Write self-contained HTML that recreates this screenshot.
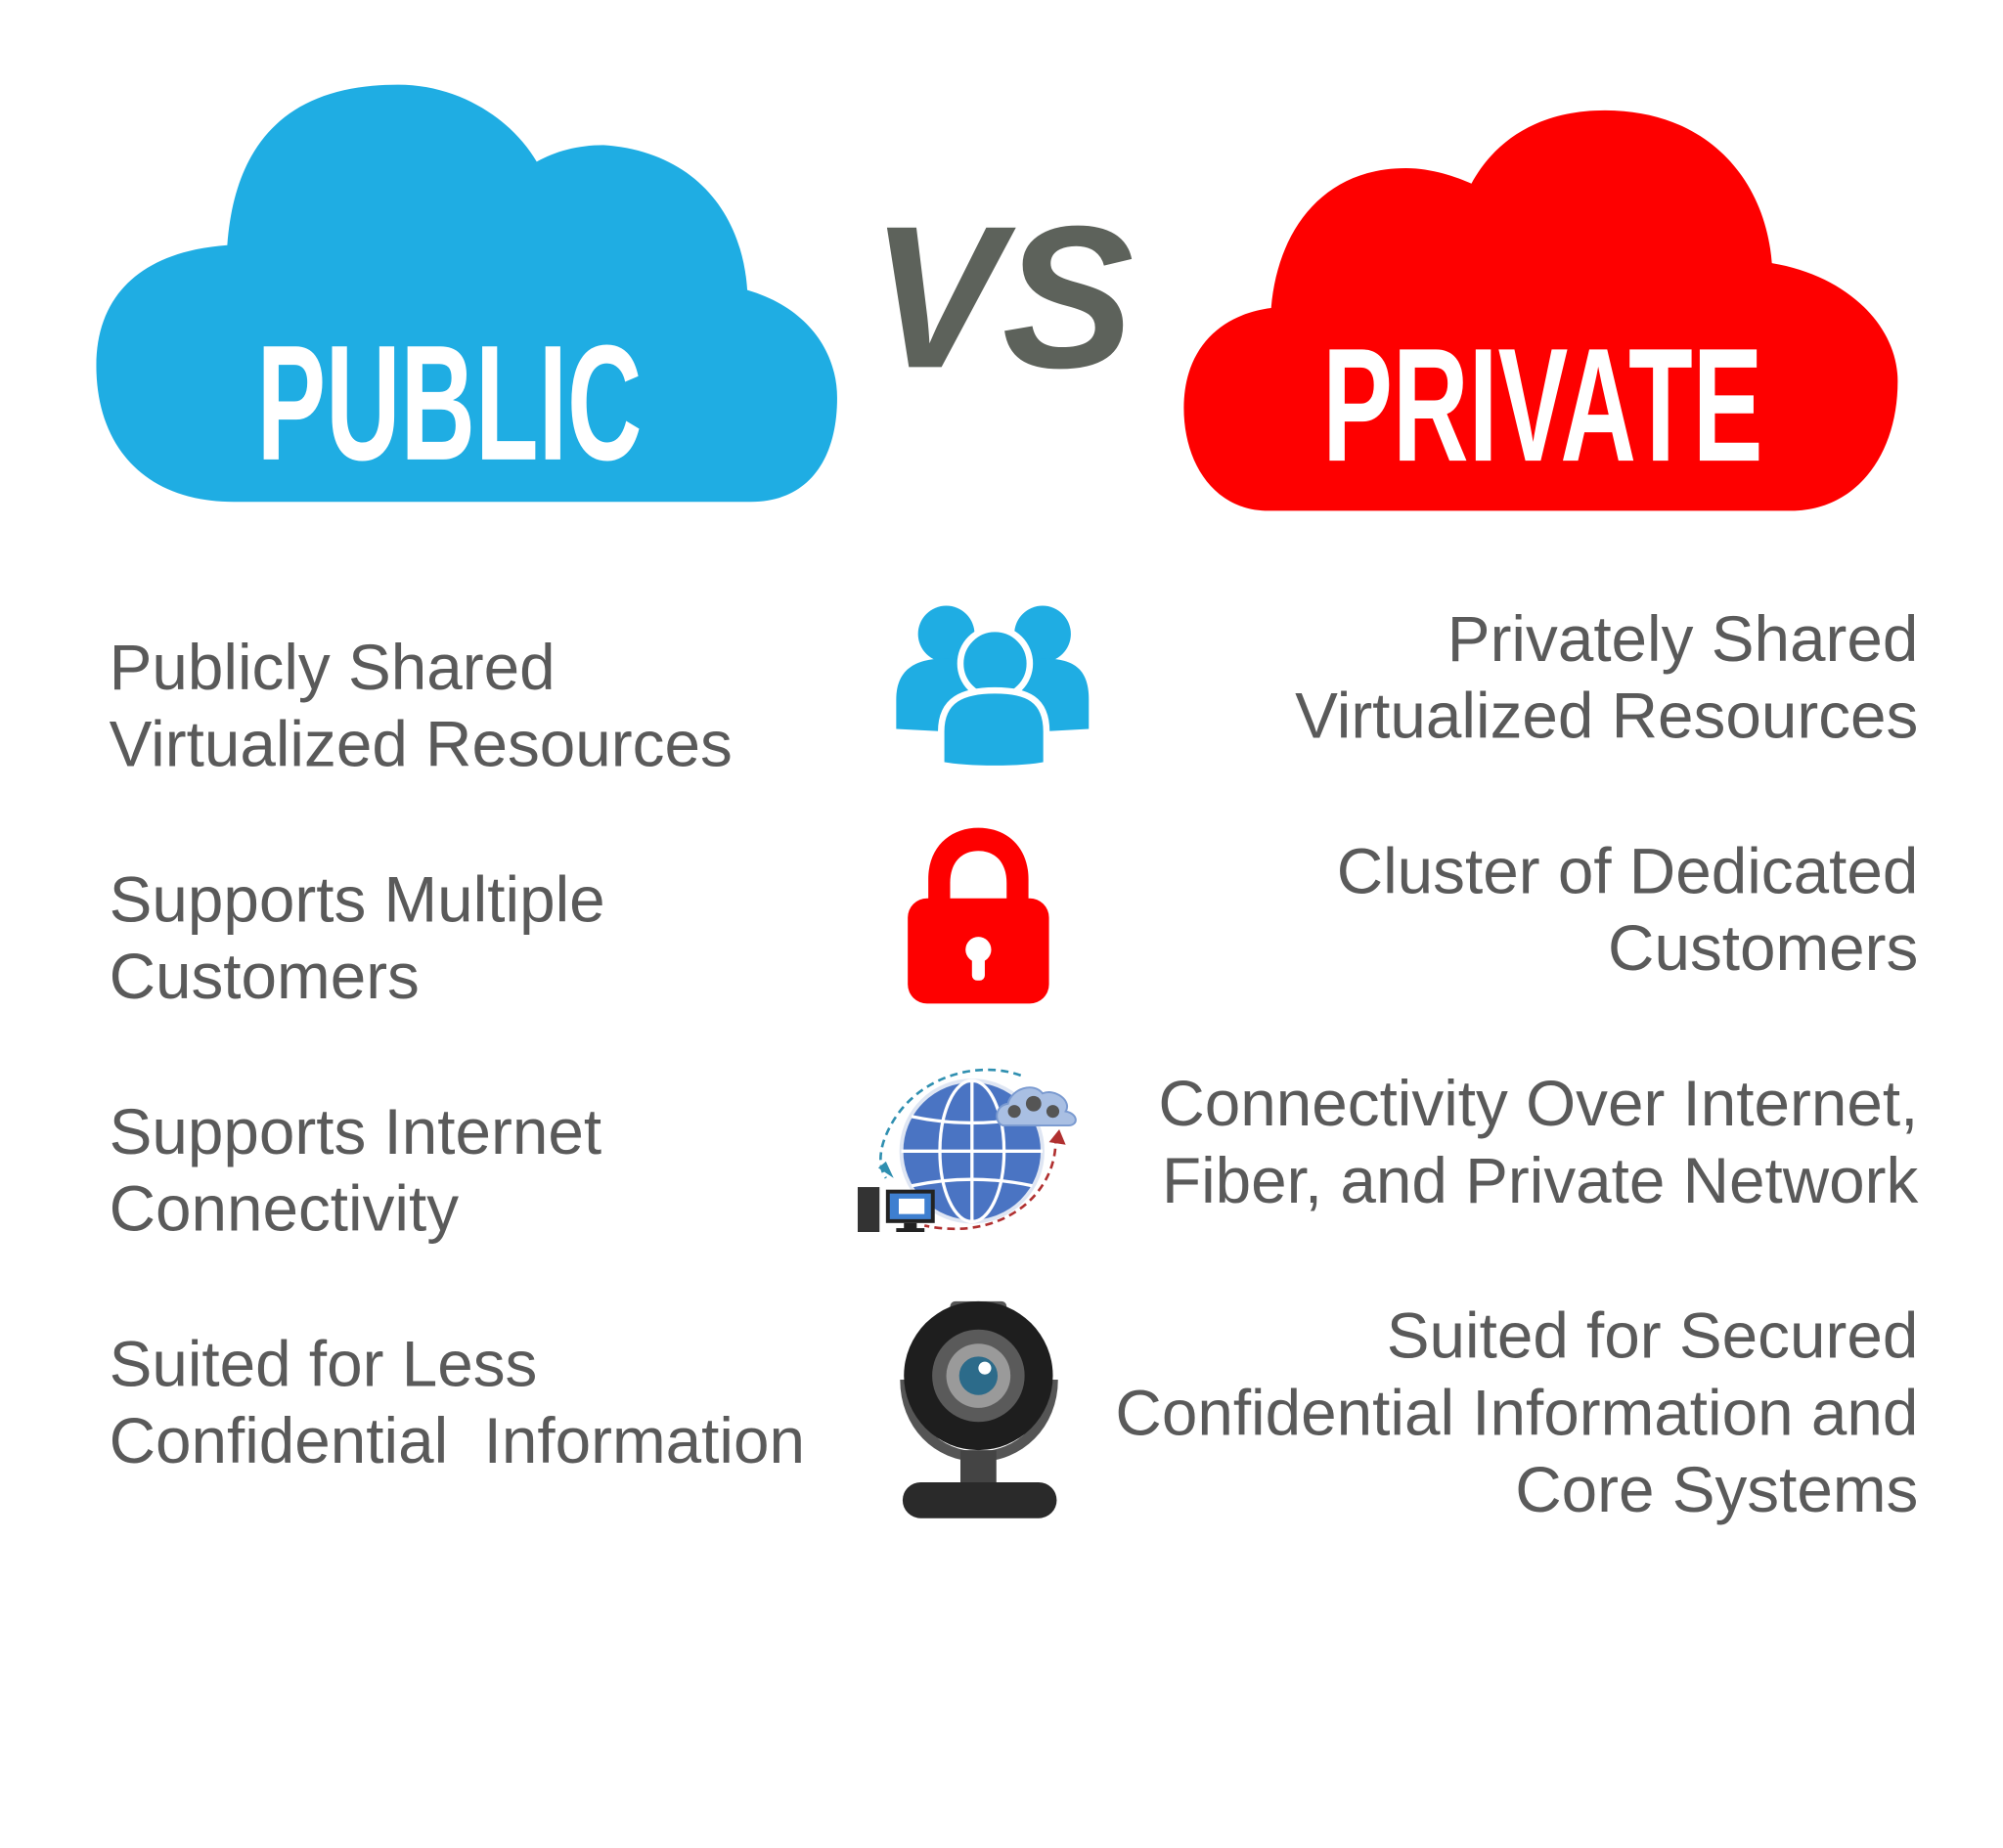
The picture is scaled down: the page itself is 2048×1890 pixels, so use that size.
<!DOCTYPE html>
<html><head><meta charset="utf-8"><style>
html,body{margin:0;padding:0;background:#fff;width:2048px;height:1890px;overflow:hidden}
svg{display:block}
.t{font-family:"Liberation Sans",Arial,sans-serif;font-size:50px;fill:#5a5a5a}
</style></head><body>
<svg width="2048" height="1890" viewBox="0 0 1560 1440" preserveAspectRatio="none" xmlns="http://www.w3.org/2000/svg">
<rect width="1560" height="1440" fill="#fff"/>
<!-- blue cloud -->
<path d="M182,391 C110,391 75,345 75,285 C75,230 110,196 177,191 C183,110 225,66 310,66 C360,66 400,95 418,126 C432,118 450,113 470,113 C540,118 578,165 582,226 C630,240 652,275 652,310 C652,360 628,391 585,391 Z" fill="#1fade3"/>
<text x="200" y="358" font-family="'Liberation Sans Narrow','Liberation Sans',sans-serif" font-weight="bold" font-size="128" fill="#fff" textLength="300" lengthAdjust="spacingAndGlyphs">PUBLIC</text>
<!-- VS -->
<text x="678" y="286" font-family="'Liberation Sans',sans-serif" font-weight="bold" font-style="italic" font-size="158" fill="#5d625b" textLength="205" lengthAdjust="spacingAndGlyphs">VS</text>
<!-- red cloud -->
<path d="M988,398 C945,398 922,360 922,318 C922,272 950,245 990,240 C995,180 1030,131 1095,131 C1115,131 1135,138 1146,143 C1165,108 1200,86 1250,86 C1330,86 1375,140 1380,205 C1440,215 1478,255 1478,297 C1478,355 1445,398 1395,398 Z" fill="#fe0000"/>
<text x="1030" y="359" font-family="'Liberation Sans Narrow','Liberation Sans',sans-serif" font-weight="bold" font-size="126" fill="#fff" textLength="343" lengthAdjust="spacingAndGlyphs">PRIVATE</text>

<!-- left text -->
<text class="t" x="85" y="537">Publicly Shared</text>
<text class="t" x="85" y="597">Virtualized Resources</text>
<text class="t" x="85" y="718">Supports Multiple</text>
<text class="t" x="85" y="778">Customers</text>
<text class="t" x="85" y="899">Supports Internet</text>
<text class="t" x="85" y="959">Connectivity</text>
<text class="t" x="85" y="1080">Suited for Less</text>
<text class="t" x="85" y="1140" xml:space="preserve">Confidential  Information</text>
<!-- right text -->
<g text-anchor="end">
<text class="t" x="1494" y="515">Privately Shared</text>
<text class="t" x="1494" y="575">Virtualized Resources</text>
<text class="t" x="1494" y="696">Cluster of Dedicated</text>
<text class="t" x="1494" y="756">Customers</text>
<text class="t" x="1494" y="877">Connectivity Over Internet,</text>
<text class="t" x="1494" y="937">Fiber, and Private Network</text>
<text class="t" x="1494" y="1058">Suited for Secured</text>
<text class="t" x="1494" y="1118">Confidential Information and</text>
<text class="t" x="1494" y="1178">Core Systems</text>
</g>

<!-- people -->
<g fill="#1fade3">
<circle cx="737" cy="494" r="22"/>
<circle cx="812" cy="494" r="22"/>
<path d="M698,568 L698,545 C698,520 715,513 737,513 C760,513 775,520 775,545 L775,572 Z"/>
<path d="M775,572 L775,545 C775,520 790,513 812,513 C835,513 848,520 848,545 L848,568 Z"/>
<circle cx="775" cy="517" r="27" stroke="#fff" stroke-width="5"/>
<path d="M733,596 L733,570 C733,545 750,538 775,538 C800,538 815,545 815,570 L815,596 C795,600 755,600 733,596 Z" stroke="#fff" stroke-width="5"/>
</g>

<!-- lock -->
<path d="M723,705 L723,685 C723,660 740,645 762,645 C784,645 801,660 801,685 L801,705 L784,705 L784,688 C784,672 775,663 762,663 C749,663 740,672 740,688 L740,705 Z" fill="#fe0000"/>
<rect x="707" y="700" width="110" height="82" rx="15" fill="#fe0000"/>
<circle cx="762" cy="740" r="10" fill="#fff"/>
<rect x="757" y="740" width="10" height="24" rx="4" fill="#fff"/>

<!-- globe -->
<path d="M795,838 C760,825 705,840 688,890 C684,903 686,912 690,918" fill="none" stroke="#2f8fb0" stroke-width="2" stroke-dasharray="6,4"/>
<path d="M684,910 L696,918 L690,905 Z" fill="#2f8fb0"/>
<path d="M822,885 C825,930 780,968 720,955" fill="none" stroke="#b03030" stroke-width="2" stroke-dasharray="6,4"/>
<path d="M817,890 L825,880 L830,892 Z" fill="#b03030"/>
<circle cx="757" cy="897" r="55" fill="#4a74c3" stroke="#dfe6f3" stroke-width="3"/>
<g fill="none" stroke="#fff" stroke-width="2.5">
<ellipse cx="757" cy="897" rx="25" ry="55"/>
<line x1="757" y1="842" x2="757" y2="952"/>
<line x1="702" y1="897" x2="812" y2="897"/>
<path d="M710,870 Q757,880 804,870 M710,924 Q757,914 804,924"/>
</g>
<path d="M782,877 C775,877 773,862 785,860 C788,848 805,843 812,852 C822,848 835,858 830,866 C840,868 840,877 832,877 Z" fill="#a9bfe3" stroke="#7a9ad0" stroke-width="1.5"/>
<circle cx="790" cy="866" r="5" fill="#555"/><circle cx="805" cy="860" r="6" fill="#555"/><circle cx="820" cy="866" r="5" fill="#555"/>
<rect x="668" y="925" width="17" height="35" fill="#333"/>
<rect x="690" y="927" width="38" height="26" fill="#222"/>
<rect x="693" y="930" width="32" height="20" fill="#3e7fd0"/>
<rect x="700" y="934" width="20" height="12" fill="#fff"/>
<rect x="704" y="953" width="10" height="5" fill="#222"/>
<rect x="698" y="957" width="22" height="3" fill="#222"/>

<!-- webcam -->
<rect x="740" y="1014" width="44" height="16" rx="4" fill="#555"/>
<path d="M705,1075 C705,1110 730,1135 762,1135 C794,1135 820,1110 820,1075" fill="none" stroke="#555" stroke-width="8"/>
<rect x="748" y="1130" width="28" height="28" fill="#444"/>
<rect x="703" y="1155" width="120" height="28" rx="14" fill="#2a2a2a"/>
<circle cx="762" cy="1072" r="58" fill="#1e1e1e"/>
<circle cx="762" cy="1072" r="36" fill="#5a5a5a"/>
<circle cx="762" cy="1072" r="25" fill="#9a9a9a"/>
<circle cx="762" cy="1072" r="15" fill="#2c6b8a"/>
<circle cx="767" cy="1066" r="5" fill="#fff"/>
</svg>
</body></html>
